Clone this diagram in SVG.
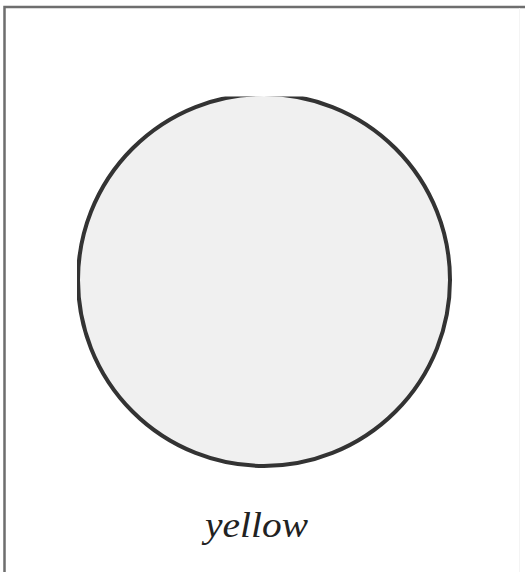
<svg xmlns="http://www.w3.org/2000/svg" width="525" height="572" viewBox="0 0 525 572">
<style>
.frame{fill:none;stroke:#6e6e6e;stroke-width:2.5}
.ball{fill:#f0f0f0;stroke:#333;stroke-width:4}
.lbl{font-family:"Liberation Serif",serif;font-style:italic;font-size:35px;fill:#222}
</style>
<defs>
<clipPath id="clip"><rect x="77" y="96.5" width="400" height="400"/></clipPath>
</defs>
<rect width="525" height="572" fill="#fff"/>
<g id="frame">
<polyline class="frame" points="4.5,572 4.5,7 525,7"/>
<line x1="519.5" y1="8" x2="519.5" y2="572" stroke="#f4f4f4" stroke-width="1"/>
</g>
<g id="circle">
<circle class="ball" cx="264" cy="280" r="186" clip-path="url(#clip)"/>
</g>
<g id="label">
<text class="lbl" x="205" y="537" textLength="103" lengthAdjust="spacingAndGlyphs">yellow</text>
</g>
</svg>
